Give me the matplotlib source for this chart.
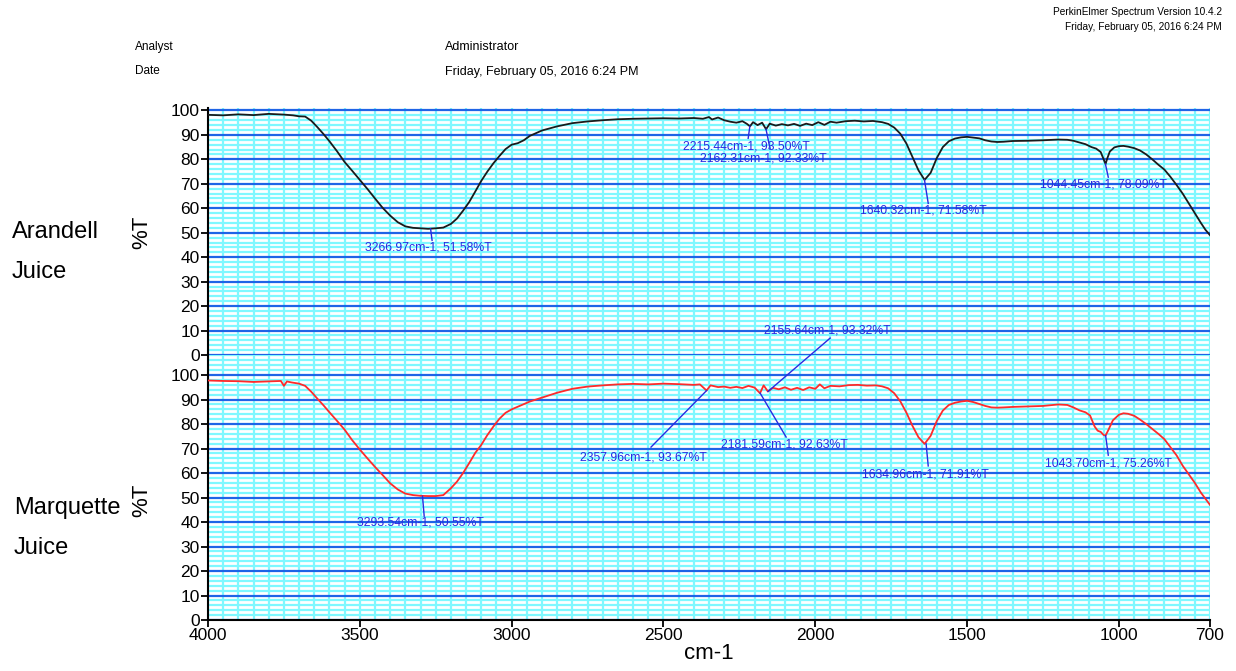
import matplotlib.pyplot as plt
from matplotlib.ticker import MultipleLocator

plt.rcParams['font.family'] = ['Liberation Sans', 'DejaVu Sans']

# Arandell juice spectrum (black trace)
wn_arandell = [4000, 3950, 3900, 3850, 3800, 3750, 3720, 3700, 3680, 3660, 3640, 3620,
               3600, 3575, 3550, 3525, 3500, 3475, 3450, 3425, 3400, 3375, 3350, 3325,
               3300, 3275, 3250, 3225, 3200, 3180, 3160, 3140, 3120, 3100, 3080, 3060,
               3040, 3020, 3000, 2980, 2960, 2940, 2900, 2850, 2800, 2750, 2700, 2650,
               2600, 2550, 2500, 2450, 2400, 2370, 2350, 2340, 2320, 2300, 2280, 2260,
               2240, 2225, 2215, 2205, 2190, 2175, 2162, 2150, 2130, 2110, 2090, 2070,
               2050, 2030, 2010, 1990, 1970, 1950, 1930, 1900, 1870, 1840, 1810, 1780,
               1760, 1740, 1720, 1700, 1680, 1660, 1640, 1620, 1600, 1580, 1560, 1540,
               1520, 1500, 1480, 1460, 1440, 1420, 1400, 1380, 1350, 1300, 1250, 1200,
               1170, 1150, 1130, 1110, 1090, 1075, 1060, 1050, 1044, 1038, 1030, 1015,
               1000, 985, 970, 950, 930, 910, 890, 870, 850, 830, 810, 790, 770, 750,
               730, 715, 700]
t_arandell = [98.2, 98.0, 98.4, 98.1, 98.6, 98.3, 98.0, 97.6, 97.5, 95.8, 93.2, 90.4,
              87.4, 83.3, 78.9, 75.3, 71.6, 67.9, 64.0, 60.2, 57.0, 54.3, 52.6, 52.0,
              51.8, 51.6, 51.8, 52.1, 53.6, 55.8, 59.0, 62.5, 66.8, 71.2, 75.0, 78.4,
              81.4, 84.2, 86.0, 86.6, 87.8, 89.6, 91.8, 93.5, 94.8, 95.5, 96.0, 96.4,
              96.6, 96.7, 96.8, 96.7, 96.9, 96.6, 97.3, 96.3, 97.1, 96.0, 95.4, 95.0,
              95.6, 94.5, 93.5, 95.2, 94.0, 95.0, 92.3, 94.6, 93.8, 94.4, 93.9, 94.5,
              93.7, 94.6, 94.0, 95.2, 94.1, 95.4, 95.0, 95.6, 95.8, 95.5, 95.7, 95.2,
              94.5, 93.0, 90.5, 86.5, 81.0, 75.5, 71.6, 74.5, 80.5, 85.0, 87.4, 88.5,
              89.0, 89.2, 88.9, 88.6, 87.8, 87.3, 87.1, 87.2, 87.5, 87.6, 87.8, 88.1,
              88.0, 87.6, 86.9, 86.2, 85.0, 84.4, 83.0, 80.0, 78.1, 80.5, 83.2, 84.9,
              85.4, 85.5, 85.2, 84.6, 83.6, 82.0, 80.0, 77.8, 75.8, 72.8, 69.5, 66.0,
              62.0, 58.0, 54.0, 51.2, 49.0]

# Marquette juice spectrum (red trace)
wn_marquette = [4000, 3950, 3900, 3850, 3800, 3770, 3760, 3750, 3740, 3725, 3700, 3680,
                3660, 3640, 3620, 3600, 3575, 3550, 3525, 3500, 3475, 3450, 3425, 3400,
                3375, 3350, 3325, 3300, 3275, 3250, 3225, 3200, 3180, 3160, 3140, 3120,
                3100, 3080, 3060, 3040, 3020, 3000, 2970, 2940, 2900, 2850, 2800, 2750,
                2700, 2650, 2600, 2550, 2500, 2450, 2400, 2380, 2358, 2345, 2320, 2300,
                2280, 2260, 2240, 2220, 2200, 2182, 2170, 2156, 2140, 2120, 2100, 2080,
                2060, 2040, 2020, 2000, 1985, 1970, 1950, 1920, 1890, 1860, 1830, 1800,
                1780, 1760, 1740, 1720, 1700, 1680, 1660, 1640, 1620, 1600, 1580, 1560,
                1540, 1520, 1500, 1480, 1460, 1440, 1420, 1400, 1380, 1350, 1300, 1250,
                1200, 1170, 1150, 1130, 1110, 1095, 1080, 1070, 1060, 1050, 1044, 1035,
                1020, 1000, 985, 970, 950, 930, 910, 890, 870, 850, 830, 810, 790, 770,
                750, 730, 715, 700]
t_marquette = [97.8, 97.6, 97.5, 97.2, 97.4, 97.5, 97.6, 95.6, 97.4, 97.0, 96.5, 95.6,
               93.2, 90.4, 87.7, 84.8, 81.3, 77.7, 73.4, 69.6, 66.0, 62.5, 59.2, 55.8,
               53.3, 51.6, 51.0, 50.7, 50.6, 50.6, 51.0, 53.8, 56.5, 60.0, 64.0, 68.2,
               71.5, 75.5, 79.0, 82.2, 84.6, 86.0, 87.6, 89.2, 90.8, 92.8, 94.4, 95.3,
               95.8, 96.2, 96.4, 96.2, 96.5, 96.3, 96.0, 96.2, 93.7, 95.8, 95.1, 95.3,
               94.8, 95.2, 94.7, 95.6, 94.9, 92.6, 95.8, 93.3, 94.8, 94.2, 95.0, 94.0,
               94.8, 93.9, 95.0, 94.4, 96.2, 94.6, 95.6, 95.4, 95.9, 96.0, 95.7, 95.8,
               95.4, 94.6, 92.6, 89.3, 84.7, 79.3, 74.6, 71.9, 75.2, 81.2, 85.5, 87.8,
               88.7, 89.2, 89.5, 89.0, 88.2, 87.4, 86.8, 86.7, 86.8, 87.0, 87.2, 87.4,
               88.0, 87.8, 86.8, 85.6, 84.8, 83.5, 79.0, 77.3, 76.8, 75.5, 75.3, 77.5,
               81.5, 83.8, 84.4, 84.2, 83.4, 81.8, 80.0, 78.0, 76.0, 73.8, 70.5, 67.2,
               63.0, 59.5, 56.0, 52.0, 49.5, 47.0]

# peak labels: (wavenumber, %T, text x, text y, leader end x, leader end y)
peaks_arandell = [
    (3266.97, 51.58, 3483, 44.1, 3262, 46.9),
    (2215.44, 93.50, 2435, 85.3, 2221, 88.6),
    (2162.31, 92.33, 2379, 80.4, 2149, 84.5),
    (1640.32, 71.58, 1852, 59.2, 1628, 62.0),
    (1044.45, 78.09, 1260, 69.8, 1035, 72.7),
]
peaks_marquette = [
    (3293.54, 50.55, 3509, 40.0, 3288, 42.4),
    (2357.96, 93.67, 2775, 66.5, 2541, 70.6),
    (2181.59, 92.63, 2310, 71.8, 2096, 74.7),
    (2155.64, 93.32, 2169, 118.4, 1951, 115.1),
    (1634.96, 71.91, 1846, 59.6, 1628, 62.9),
    (1043.70, 75.26, 1243, 64.1, 1035, 67.3),
]

W, H = 1236, 671
fig = plt.figure(figsize=(W / 100, H / 100), dpi=100)

def fx(px):
    return px / W

def fy(py):
    return 1 - py / H

ax_top = fig.add_axes([fx(208), fy(355), fx(1210) - fx(208), fy(108) - fy(355)])
ax_bot = fig.add_axes([fx(208), fy(620), fx(1210) - fx(208), fy(355) - fy(620)])

label_blue = '#2a2ae0'

def style_axes(ax, ymax, show_x):
    ax.set_xlim(4000, 700)
    ax.set_ylim(0, ymax)
    ax.yaxis.set_major_locator(MultipleLocator(10))
    ax.yaxis.set_minor_locator(MultipleLocator(2))
    ax.set_yticks(range(0, 101, 10))
    ax.xaxis.set_minor_locator(MultipleLocator(50))
    ax.set_xticks([4000, 3500, 3000, 2500, 2000, 1500, 1000, 700])
    ax.grid(which='minor', color='#7ff8ff', linewidth=1.6, zorder=0)
    ax.grid(which='major', axis='x', color='#7ff8ff', linewidth=1.6, zorder=0)
    ax.grid(which='major', axis='y', color='#1f64e6', linewidth=1.6, zorder=1)
    ax.set_axisbelow(True)
    for s in ['top', 'right']:
        ax.spines[s].set_visible(False)
    ax.spines['left'].set_linewidth(1.5)
    ax.spines['bottom'].set_linewidth(1.5)
    ax.tick_params(axis='both', which='major', length=5, width=1.3, labelsize=12.5,
                   pad=1)
    ax.tick_params(axis='both', which='minor', length=0)
    if not show_x:
        ax.spines['bottom'].set_visible(False)
        ax.tick_params(axis='x', labelbottom=False, length=0)

style_axes(ax_top, 101, False)
style_axes(ax_bot, 108.2, True)

ax_top.plot(wn_arandell, t_arandell, color='#1a1a1a', linewidth=1.3, zorder=3)
ax_bot.plot(wn_marquette, t_marquette, color='#ff2a2a', linewidth=1.3, zorder=3)

for ax, peaks in [(ax_top, peaks_arandell), (ax_bot, peaks_marquette)]:
    for wn, t, tx, ty, lx, ly in peaks:
        ax.plot([wn, lx], [t, ly], color=label_blue, linewidth=1.0, zorder=4,
                clip_on=False)
        ax.text(tx, ty, f'{wn:.2f}cm-1, {t:.2f}%T', color=label_blue, fontsize=8.8,
                ha='left', va='center', zorder=5, clip_on=False)

ax_bot.set_xlabel('cm-1', fontsize=16, labelpad=0)

# y labels and sample names
fig.text(fx(142), fy(232), '%T', rotation=90, fontsize=16, ha='center', va='center')
fig.text(fx(142), fy(500), '%T', rotation=90, fontsize=16, ha='center', va='center')
fig.text(fx(12), fy(232), 'Arandell', fontsize=17, ha='left', va='center')
fig.text(fx(12), fy(272), 'Juice', fontsize=17, ha='left', va='center')
fig.text(fx(14), fy(508), 'Marquette', fontsize=17, ha='left', va='center')
fig.text(fx(14), fy(548), 'Juice', fontsize=17, ha='left', va='center')

# header
fig.text(fx(135), fy(47), 'Analyst', fontsize=8.5, ha='left', va='center')
fig.text(fx(135), fy(71), 'Date', fontsize=8.5, ha='left', va='center')
fig.text(fx(445), fy(47), 'Administrator', fontsize=9, ha='left', va='center')
fig.text(fx(445), fy(72), 'Friday, February 05, 2016 6:24 PM', fontsize=9,
         ha='left', va='center')
fig.text(fx(1222), fy(12), 'PerkinElmer Spectrum Version 10.4.2', fontsize=7.3,
         ha='right', va='center')
fig.text(fx(1222), fy(27), 'Friday, February 05, 2016 6:24 PM', fontsize=7.3,
         ha='right', va='center')

fig.savefig('out.png', dpi=100)
